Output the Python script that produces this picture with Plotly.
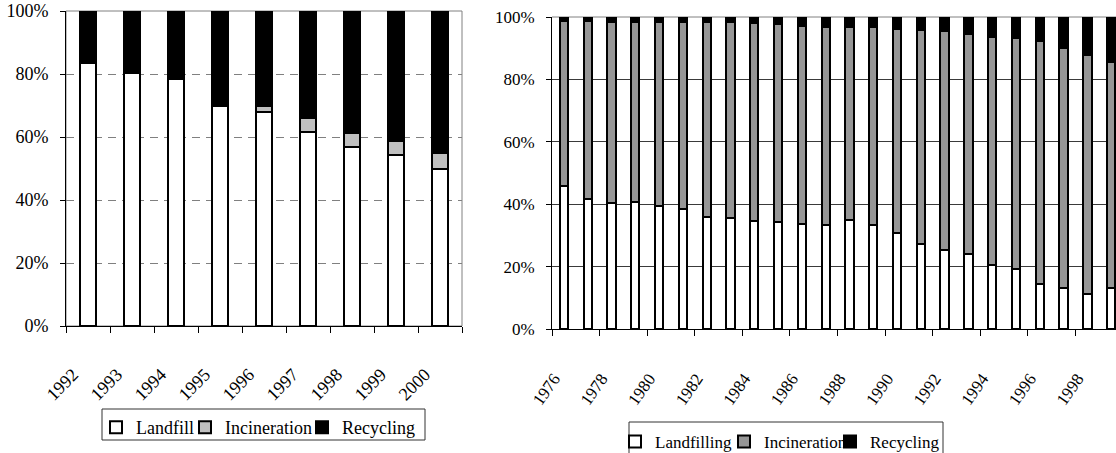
import plotly.graph_objects as go

# Left panel: 1992-2000 shares (%)
years_a = ["1992", "1993", "1994", "1995", "1996", "1997", "1998", "1999", "2000"]
landfill_a = [83.6, 80.4, 78.3, 69.7, 67.8, 61.7, 56.7, 54.2, 49.8]
incineration_a = [0.5, 0.6, 0.6, 0.0, 2.0, 4.4, 4.5, 4.4, 5.2]
recycling_a = [15.9, 19.0, 21.1, 30.3, 30.2, 33.9, 38.8, 41.4, 45.0]

# Right panel: 1976-1999 shares (%)
years_b = ["1976", "1977", "1978", "1979", "1980", "1981", "1982", "1983",
           "1984", "1985", "1986", "1987", "1988", "1989", "1990", "1991",
           "1992", "1993", "1994", "1995", "1996", "1997", "1998", "1999"]
landfill_b = [45.9, 41.6, 40.5, 40.7, 39.4, 38.5, 35.9, 35.5,
              34.6, 34.2, 33.8, 33.4, 34.9, 33.2, 30.7, 27.3,
              25.2, 24.0, 20.6, 19.3, 14.5, 13.1, 11.3, 13.0]
incineration_b = [52.9, 57.1, 58.0, 57.8, 59.1, 60.0, 62.6, 62.8,
                  63.5, 63.5, 63.3, 63.5, 62.0, 63.5, 65.3, 68.4,
                  70.3, 70.7, 73.0, 74.0, 77.7, 77.0, 76.6, 72.7]
recycling_b = [1.2, 1.3, 1.5, 1.5, 1.5, 1.5, 1.5, 1.7,
               1.9, 2.3, 2.9, 3.1, 3.1, 3.3, 4.0, 4.3,
               4.5, 5.3, 6.4, 6.7, 7.8, 9.9, 12.1, 14.3]

# Percent axis ticks
pct_vals = [0, 20, 40, 60, 80, 100]
pct_text = ["0%", "20%", "40%", "60%", "80%", "100%"]

W, H = 1116, 453
SERIF = "Times New Roman"


def px_x(p):
    return p / W


def px_y(p):
    return 1 - p / H


fig = go.Figure()

# Each series gets its own single-entry legend so entries can be spaced freely;
# the frame around each group is drawn as a paper-space rectangle.
left_series = [
    ("Landfill", landfill_a, "#ffffff", "legend", 96),
    ("Incineration", incineration_a, "#c0c0c0", "legend3", 185),
    ("Recycling", recycling_a, "#000000", "legend4", 302),
]
for name, vals, color, leg, _ in left_series:
    fig.add_trace(go.Bar(
        x=years_a, y=vals, name=name, xaxis="x", yaxis="y", legend=leg,
        width=0.36, marker=dict(color=color, line=dict(color="#000000", width=2)),
    ))

right_series = [
    ("Landfilling", landfill_b, "#ffffff", "legend2", 615),
    ("Incineration", incineration_b, "#969696", "legend5", 724),
    ("Recycling", recycling_b, "#000000", "legend6", 830),
]
for name, vals, color, leg, _ in right_series:
    fig.add_trace(go.Bar(
        x=years_b, y=vals, name=name, xaxis="x2", yaxis="y2", legend=leg,
        width=0.35, marker=dict(color=color, line=dict(color="#000000", width=2)),
    ))

legends = {}
for _, _, _, leg, left in left_series:
    legends[leg] = dict(
        orientation="h", x=px_x(left), y=px_y(409), xanchor="left", yanchor="top",
        borderwidth=0, bgcolor="rgba(0,0,0,0)", font=dict(size=18, family=SERIF),
    )
for _, _, _, leg, left in right_series:
    legends[leg] = dict(
        orientation="h", x=px_x(left), y=px_y(424), xanchor="left", yanchor="top",
        borderwidth=0, bgcolor="rgba(0,0,0,0)", font=dict(size=17, family=SERIF),
    )

fig.update_layout(
    template="none",
    width=W, height=H,
    margin=dict(l=0, r=0, t=0, b=0, autoexpand=False),
    paper_bgcolor="white", plot_bgcolor="white",
    barmode="stack",
    showlegend=True,
    font=dict(family=SERIF, color="#000000", size=18),
    xaxis=dict(
        domain=[px_x(66), px_x(462)], anchor="y", type="category", automargin=False,
        range=[-0.5, len(years_a) - 0.5],
        tickson="boundaries", ticks="outside", ticklen=6, tickcolor="#000000",
        showline=True, linecolor="#000000", linewidth=1, showgrid=False,
        tickangle=-45, tickfont=dict(size=18, family=SERIF),
        ticklabelstandoff=30, ticklabelshift=-15,
    ),
    yaxis=dict(
        domain=[px_y(326), px_y(11)], anchor="x", automargin=False,
        range=[0, 100], tickmode="array", tickvals=pct_vals, ticktext=pct_text,
        ticks="outside", ticklen=5, tickcolor="#000000",
        showline=True, linecolor="#000000", linewidth=1,
        showgrid=True, gridcolor="#808080", gridwidth=1, griddash="8px,6px",
        zeroline=False, tickfont=dict(size=18, family=SERIF),
        ticklabelstandoff=8,
    ),
    xaxis2=dict(
        domain=[px_x(552), 1.0], anchor="y2", type="category", automargin=False,
        range=[-0.5, 23.2],
        tickmode="linear", tick0=0, dtick=2,
        tickson="boundaries", ticks="outside", ticklen=6, tickcolor="#000000",
        showline=True, linecolor="#000000", linewidth=1, showgrid=False,
        tickangle=-55, tickfont=dict(size=17, family=SERIF),
        ticklabelstandoff=32, ticklabelshift=-10,
    ),
    yaxis2=dict(
        domain=[px_y(329), px_y(17)], anchor="x2", automargin=False,
        range=[0, 100], tickmode="array", tickvals=pct_vals, ticktext=pct_text,
        ticks="outside", ticklen=5, tickcolor="#000000",
        showline=True, linecolor="#000000", linewidth=1,
        showgrid=True, gridcolor="#3a3a3a", gridwidth=1,
        zeroline=False, tickfont=dict(size=17, family=SERIF),
        ticklabelstandoff=8,
    ),
    shapes=[
        # plot-area frames
        dict(type="rect", xref="x domain", yref="y domain", x0=0, x1=1, y0=0, y1=1,
             line=dict(color="#808080", width=1), layer="below"),
        dict(type="line", xref="x2 domain", yref="y2 domain", x0=0, x1=1, y0=1, y1=1,
             line=dict(color="#808080", width=1), layer="below"),
        # legend frames
        dict(type="rect", xref="paper", yref="paper",
             x0=px_x(102), x1=px_x(425), y0=px_y(440), y1=px_y(409),
             line=dict(color="#333333", width=1), fillcolor="rgba(0,0,0,0)"),
        dict(type="rect", xref="paper", yref="paper",
             x0=px_x(629), x1=px_x(943), y0=px_y(470), y1=px_y(422),
             line=dict(color="#333333", width=1), fillcolor="rgba(0,0,0,0)"),
    ],
    **legends,
)

fig.write_html("out.html")
